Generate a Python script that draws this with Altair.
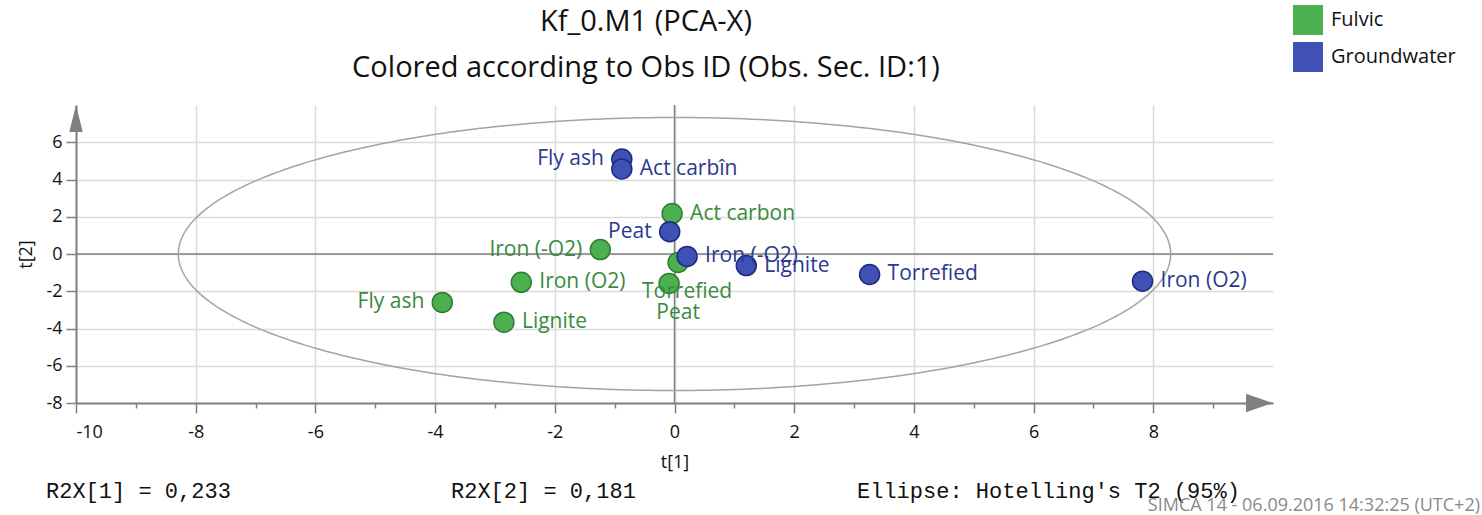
import altair as alt
import pandas as pd

# ---------------- data ----------------
groups = ["Fulvic", "Groundwater"]

fulvic_names = ["Act carbon", "Iron (-O2)", "Iron (O2)", "Fly ash", "Lignite", "Torrefied", "Peat"]
fulvic_t1 = [-0.04, -1.24, -2.56, -3.88, -2.85, 0.06, -0.09]
fulvic_t2 = [2.17, 0.24, -1.52, -2.60, -3.66, -0.45, -1.58]
fulvic_place = ["right", "left", "right", "left", "right", "below", "below"]

gw_names = ["Fly ash", "Act carbîn", "Peat", "Iron (-O2)", "Lignite", "Torrefied", "Iron (O2)"]
gw_t1 = [-0.88, -0.88, -0.08, 0.21, 1.20, 3.26, 7.82]
gw_t2 = [5.10, 4.57, 1.20, -0.13, -0.62, -1.10, -1.46]
gw_place = ["left", "right", "left", "right", "right", "right", "right"]

x_domain = [-10, 10]
y_domain = [-8, 8]
x_tick_values = list(range(-10, 10))
y_tick_values = list(range(-8, 8))

ellipse_a = 8.29   # Hotelling T2 ellipse semi-axis along t[1]
ellipse_b = 7.33   # semi-axis along t[2]

title_text = "Kf_0.M1 (PCA-X)"
subtitle_text = "Colored according to Obs ID (Obs. Sec. ID:1)"
footer_texts = ["R2X[1] = 0,233", "R2X[2] = 0,181", "Ellipse: Hotelling's T2 (95%)"]
stamp_text = "SIMCA 14 - 06.09.2016 14:32:25 (UTC+2)"

# ---------------- styles ----------------
fill_colors = ["#4caf50", "#3f51b5"]
stroke_colors = ["#2e7d32", "#1f2a80"]
text_colors = ["#3b8a3e", "#2b3990"]
AX = "#808080"
FONT = "Open Sans"
TICKFONT = "Open Sans"

df = pd.DataFrame({
    "name": fulvic_names + gw_names,
    "t1": fulvic_t1 + gw_t1,
    "t2": fulvic_t2 + gw_t2,
    "group": [groups[0]] * len(fulvic_names) + [groups[1]] * len(gw_names),
    "place": fulvic_place + gw_place,
})

x_scale = alt.Scale(domain=x_domain, nice=False, zero=False)
y_scale = alt.Scale(domain=y_domain, nice=False, zero=False)

odd = "datum.value % 2 != 0"
common_axis = dict(
    format="d",
    labelExpr="datum.value % 2 == 0 ? replace(datum.label, '\u2212', '-') : ''",
    labelOverlap=False,
    labelFont=TICKFONT,
    labelFontSize=18,
    labelColor="#111111",
    tickColor=AX,
    tickWidth=1.5,
    tickSize={"condition": {"test": odd, "value": 5}, "value": 10},
    domainColor=AX,
    domainWidth=2,
    gridColor="#dadada",
    gridWidth=1.5,
    gridOpacity={"condition": {"test": odd, "value": 0}, "value": 1},
    titleFont=TICKFONT,
    titleFontSize=18,
    titleFontWeight="normal",
    titleColor="#111111",
)
x_axis = alt.Axis(values=x_tick_values, labelPadding=10, titlePadding=12, **common_axis)
y_axis = alt.Axis(values=y_tick_values, labelPadding=4, titlePadding=10, **common_axis)

base = alt.Chart(df)

# zero lines
zero_df = pd.DataFrame({"v": [0]})
zero_x = alt.Chart(zero_df).mark_rule(color=AX, strokeWidth=1.5).encode(
    x=alt.X("v:Q", scale=x_scale, axis=x_axis, title="t[1]"))
zero_y = alt.Chart(zero_df).mark_rule(color=AX, strokeWidth=1.5).encode(
    y=alt.Y("v:Q", scale=y_scale, axis=y_axis, title="t[2]"))

# ellipse
ellipse = (
    alt.Chart(alt.sequence(0, 361, 1, as_="deg"))
    .transform_calculate(
        ex=f"{ellipse_a} * cos(datum.deg * PI / 180)",
        ey=f"{ellipse_b} * sin(datum.deg * PI / 180)",
    )
    .mark_line(color="#a3a3a3", strokeWidth=1.5)
    .encode(x=alt.X("ex:Q", scale=x_scale), y=alt.Y("ey:Q", scale=y_scale), order="deg:Q")
)

points = base.mark_circle(size=400, opacity=1, strokeWidth=1.5).encode(
    x=alt.X("t1:Q", scale=x_scale),
    y=alt.Y("t2:Q", scale=y_scale),
    fill=alt.Fill(
        "group:N",
        scale=alt.Scale(domain=groups, range=fill_colors),
        legend=alt.Legend(
            title=None, orient="none", legendX=1217, legendY=-100,
            symbolType="square", symbolSize=900, symbolStrokeWidth=0,
            symbolOpacity=1, labelFont=FONT, labelFontSize=20,
            labelColor="#111111", rowPadding=7, labelOffset=8, padding=0,
        ),
    ),
    stroke=alt.Stroke("group:N", scale=alt.Scale(domain=groups, range=stroke_colors), legend=None),
    tooltip=["name:N", "group:N", "t1:Q", "t2:Q"],
)


def label_layer(place, dx, dy, align):
    return (
        base.transform_filter(alt.datum.place == place)
        .mark_text(align=align, baseline="middle", dx=dx, dy=dy, font=FONT, fontSize=21)
        .encode(
            x=alt.X("t1:Q", scale=x_scale),
            y=alt.Y("t2:Q", scale=y_scale),
            text="name:N",
            color=alt.Color("group:N", scale=alt.Scale(domain=groups, range=text_colors), legend=None),
        )
    )


labels = [
    label_layer("right", 18, 0, "left"),
    label_layer("left", -18, 0, "right"),
    label_layer("below", 9, 30, "center"),
]

ends_df = pd.DataFrame({"x0": [x_domain[0]], "x1": [x_domain[1]], "y0": [y_domain[0]], "y1": [y_domain[1]]})
arrow_up = alt.Chart(ends_df).mark_point(
    shape="M0,0L-0.5,2L0.5,2Z", filled=True, size=729, color=AX, opacity=1, strokeWidth=0
).encode(x=alt.X("x0:Q", scale=x_scale), y=alt.Y("y1:Q", scale=y_scale))
arrow_right = alt.Chart(ends_df).mark_point(
    shape="M0,0L-2,-0.68L-2,0.68Z", filled=True, size=729, color=AX, opacity=1, strokeWidth=0
).encode(x=alt.X("x1:Q", scale=x_scale), y=alt.Y("y0:Q", scale=y_scale))

# titles as text marks (placed above the plot area)
head_df = pd.DataFrame({"t": [title_text, subtitle_text]})
title_mark = alt.Chart(head_df).transform_filter(alt.datum.t == title_text).mark_text(
    align="center", baseline="middle", font=FONT, fontSize=29, color="#111111", x=570, y=-83
).encode(text="t:N")
subtitle_mark = alt.Chart(head_df).transform_filter(alt.datum.t == subtitle_text).mark_text(
    align="center", baseline="middle", font=FONT, fontSize=29, color="#111111", x=570, y=-37
).encode(text="t:N")

foot_df = pd.DataFrame({"t": footer_texts})
footers = []
for i, fx in enumerate([-30, 375, 781]):
    footers.append(
        alt.Chart(foot_df).transform_filter(alt.datum.t == footer_texts[i])
        .mark_text(align="left", baseline="middle", font="Liberation Mono", fontSize=22,
                   color="#111111", x=fx, y=386)
        .encode(text="t:N")
    )
stamp = alt.Chart(pd.DataFrame({"t": [stamp_text]})).mark_text(
    align="right", baseline="middle", font=FONT, fontSize=18, color="#8a8a8a", x=1404, y=401
).encode(text="t:N")

chart = (
    alt.layer(zero_x, zero_y, ellipse, points, *labels, arrow_up, arrow_right,
              title_mark, subtitle_mark, *footers, stamp)
    .properties(
        width=1197,
        height=298,
        autosize=alt.AutoSizeParams(type="none"),
        padding={"left": 76, "top": 105, "right": 209, "bottom": 112},
        background="white",
    )
    .configure_view(fill="#f4f4f4", strokeWidth=0)
)

chart.save("out.html", embed_options={"renderer": "svg", "actions": False})
